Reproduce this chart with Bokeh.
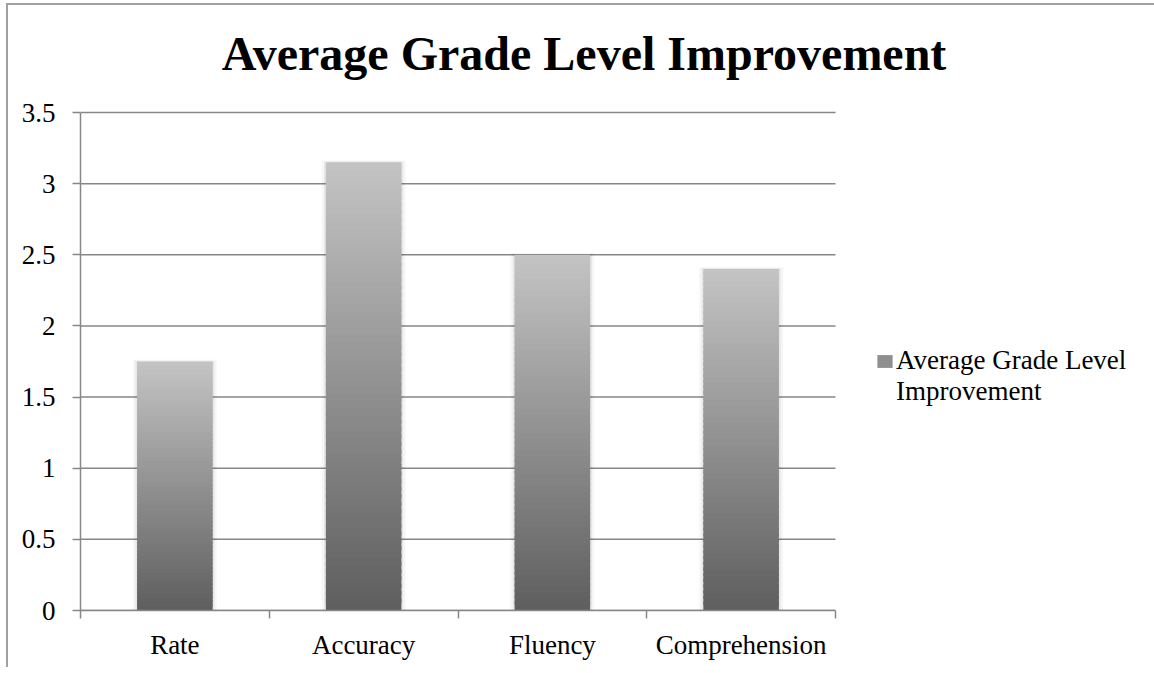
from bokeh.plotting import figure
from bokeh.layouts import column
from bokeh.models import (Range1d, FixedTicker, Legend, LegendItem,
                          ColumnDataSource, Label)
from bokeh.embed import file_html
from bokeh.resources import INLINE

# ---- data ----
categories = ["Rate", "Accuracy", "Fluency", "Comprehension"]
values = [1.75, 3.15, 2.5, 2.4]
y_ticks = [0, 0.5, 1, 1.5, 2, 2.5, 3, 3.5]
y_tick_labels = ["0", "0.5", "1", "1.5", "2", "2.5", "3", "3.5"]
title_text = "Average Grade Level Improvement"
series_name_lines = ["Average Grade Level", "Improvement"]

FONT = "Liberation Serif"
GRID = "#878787"

OX, OY = 8, 5                      # page offset of the figure canvas
W, H = 1154 - OX, 667 - OY
LEFT = 80 - OX
BOTTOM = H - (610 - OY)            # plot bottom at page y=610
PLOT_W, PLOT_H = 755, 498          # pixel size of the plotting area
n = len(categories)
ymax = y_ticks[-1]
frame_w, frame_h = W - LEFT, H - BOTTOM
x_end = n * frame_w / PLOT_W
y_end = ymax * frame_h / PLOT_H

p = figure(width=W, height=H, output_backend="svg", toolbar_location=None,
           x_range=Range1d(0, x_end), y_range=Range1d(0, y_end),
           min_border_left=LEFT, min_border_right=0, min_border_top=0,
           min_border_bottom=BOTTOM)
p.outline_line_color = None
p.background_fill_color = "white"
p.border_fill_color = "white"

centers = [i + 0.5 for i in range(n)]

# horizontal gridlines across the category area
p.segment(x0=[0] * len(y_ticks), x1=[n] * len(y_ticks), y0=y_ticks, y1=y_ticks,
          line_color=GRID, line_width=1.5)

# soft shadows
p.vbar(x=centers, top=[v + 0.012 for v in values], width=0.445, bottom=0,
       fill_color="black", fill_alpha=0.035, line_color=None)
p.vbar(x=centers, top=[v + 0.006 for v in values], width=0.42, bottom=0,
       fill_color="black", fill_alpha=0.06, line_color=None)

# gradient bars built from the values
N = 60
lo, hi = 0x5e, 0xc4
xs, bots, tops, cols = [], [], [], []
for c, v in zip(centers, values):
    for k in range(N):
        f0, f1 = k / N, (k + 1) / N
        fm = (f0 + f1) / 2
        g = int(round(lo + (hi - lo) * fm))
        xs.append(c)
        bots.append(v * f0)
        tops.append(min(v, v * f1 + (v / N) * 0.6))
        cols.append("#%02x%02x%02x" % (g, g, g))
src = ColumnDataSource(dict(x=xs, bottom=bots, top=tops, color=cols))
p.vbar(x="x", bottom="bottom", top="top", width=0.4, fill_color="color",
       line_color=None, source=src)

# legend proxy renderers (zero height)
proxy = p.vbar(x=[centers[0]], top=[0], bottom=[0], width=0.4,
               fill_color="#8e8e8e", line_color=None)
proxy2 = p.vbar(x=[centers[0]], top=[0], bottom=[0], width=0.4,
                fill_alpha=0, line_color=None)

# axes
yax = p.yaxis[0]
yax.bounds = (0, ymax)
yax.ticker = FixedTicker(ticks=y_ticks)
yax.major_label_overrides = {t: l for t, l in zip(y_ticks, y_tick_labels)}
yax.major_label_text_font = FONT
yax.major_label_text_font_size = "27px"
yax.major_label_text_color = "black"
yax.major_label_standoff = 17
yax.axis_line_color = GRID
yax.axis_line_width = 1.5
yax.major_tick_line_color = GRID
yax.major_tick_line_width = 1.5
yax.major_tick_out = 8
yax.major_tick_in = 0
yax.minor_tick_line_color = None

xax = p.xaxis[0]
xax.bounds = (0, n)
xax.ticker = FixedTicker(ticks=centers, minor_ticks=list(range(n + 1)))
xax.major_label_overrides = {c: nm for c, nm in zip(centers, categories)}
xax.major_label_text_font = FONT
xax.major_label_text_font_size = "27px"
xax.major_label_text_color = "black"
xax.major_label_standoff = 11
xax.axis_line_color = GRID
xax.axis_line_width = 1.5
xax.major_tick_line_color = None
xax.major_tick_out = 0
xax.minor_tick_line_color = GRID
xax.minor_tick_line_width = 1.5
xax.minor_tick_out = 8
xax.minor_tick_in = 0

p.xgrid.visible = False
p.ygrid.visible = False

# title (page pixel position converted to data units of this frame)
px_x = PLOT_W / n
px_y = PLOT_H / ymax
p.add_layout(Label(x=(583.5 - 80) / px_x, y=(610 - 53) / px_y,
                   text=title_text, text_font=FONT, text_font_size="48px",
                   text_font_style="bold", text_align="center",
                   text_baseline="alphabetic", text_color="black"))

# legend
legend = Legend(items=[LegendItem(label=series_name_lines[0], renderers=[proxy]),
                       LegendItem(label=series_name_lines[1], renderers=[proxy2])],
                location=(795, 203), orientation="vertical")
legend.label_text_font = FONT
legend.label_text_font_size = "27px"
legend.label_text_color = "black"
legend.glyph_width = 19
legend.glyph_height = 16
legend.label_standoff = 2
legend.label_width = 230
legend.label_height = 27
legend.spacing = 0
legend.padding = 0
legend.margin = 0
legend.border_line_color = None
legend.background_fill_alpha = 0
p.add_layout(legend, "center")

page = column(p, styles={"border-top": "2px solid #a0a0a0",
                         "border-left": "2px solid #a0a0a0",
                         "margin-left": "6px", "margin-top": "3px"})

open("out.html", "w").write(file_html(page, INLINE))
